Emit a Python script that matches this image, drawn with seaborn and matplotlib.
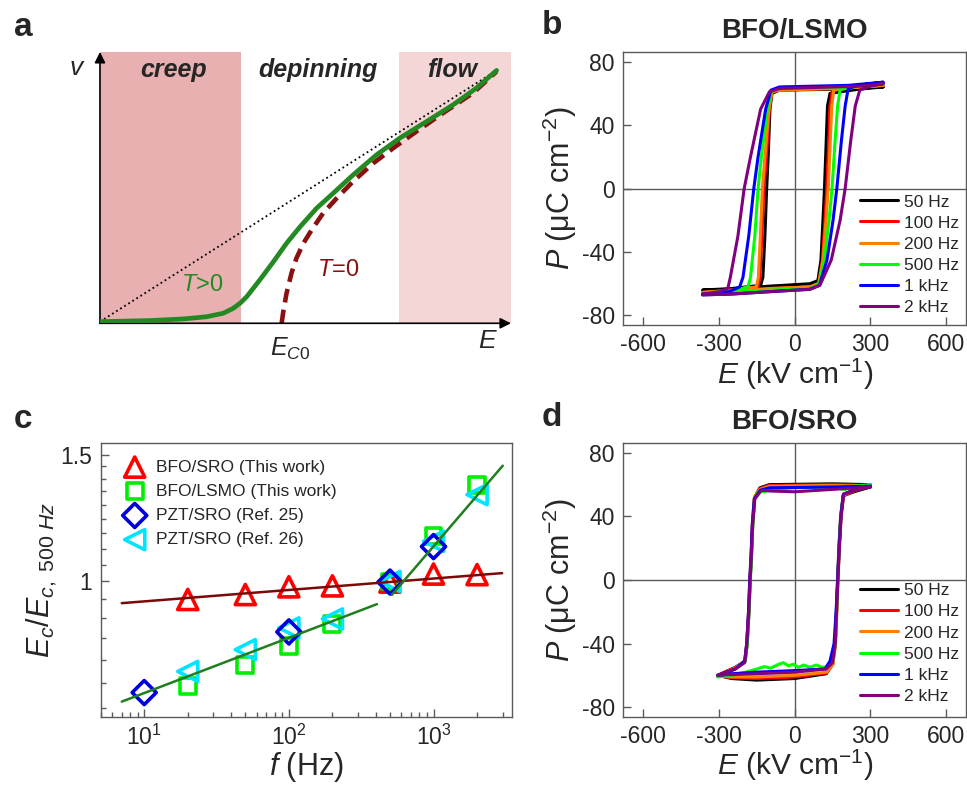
import numpy as np
import pandas as pd
import seaborn as sns
import matplotlib
matplotlib.use("Agg")
import matplotlib.pyplot as plt
from matplotlib.ticker import FixedLocator, FixedFormatter, NullFormatter, LogLocator

# ---------------- panel a: schematic v(E) ----------------
creep_span = [0.0, 3.43]
flow_span = [7.27, 10.0]
tpos_E = [0.0, 1.22, 2.03, 2.59, 3.00, 3.24, 3.41, 3.57, 3.89, 4.22, 4.54, 4.87, 5.27, 5.68,
          6.16, 6.73, 7.30, 7.95, 8.60, 9.16, 9.65]
tpos_v = [0.06, 0.10, 0.16, 0.24, 0.37, 0.55, 0.74, 0.98, 1.60, 2.27, 2.95, 3.56, 4.24, 4.80,
          5.47, 6.21, 6.83, 7.44, 8.06, 8.67, 9.32]
tzero_E = [4.42, 4.46, 4.54, 4.66, 4.78, 4.95, 5.15, 5.43, 5.76, 6.16, 6.65, 7.14, 7.70, 8.35,
           9.08, 9.65]
tzero_v = [0.0, 0.43, 1.11, 1.85, 2.40, 2.95, 3.44, 4.06, 4.61, 5.23, 5.90, 6.46, 7.07, 7.75,
           8.49, 9.28]
linear_E = [0.0, 9.65]
linear_v = [0.06, 9.32]

# ---------------- panels b, d: P-E loops ----------------
freq_labels = ['50 Hz', '100 Hz', '200 Hz', '500 Hz', '1 kHz', '2 kHz']
loop_colors = ['#000000', '#ff0000', '#ff8000', '#00ff00', '#0000ff', '#800080']

# BFO/LSMO, one closed loop per frequency (descending then ascending branch)
lsmo_E = [
    [350, 130, -60, -90, -98, -105, -111, -118, -126, -135, -250, -365,
     -365, -250, -100, 60, 92, 104, 112, 118, 125, 130, 140, 250, 350],
    [350, 145, -60, -90, -100, -112, -122, -130, -138, -145, -250, -365,
     -365, -250, -100, 60, 95, 110, 120, 127, 135, 140, 150, 250, 350],
    [350, 150, -60, -90, -102, -118, -128, -136, -144, -152, -250, -365,
     -365, -250, -100, 60, 95, 112, 124, 133, 141, 147, 155, 250, 350],
    [350, 180, -60, -92, -108, -132, -145, -158, -175, -185, -250, -365,
     -365, -250, -100, 60, 96, 118, 136, 148, 160, 170, 180, 250, 350],
    [350, 212, -60, -94, -115, -145, -162, -182, -205, -218, -260, -365,
     -365, -250, -100, 60, 98, 128, 152, 167, 185, 200, 212, 250, 350],
    [350, 258, -60, -100, -135, -175, -200, -225, -255, -265, -300, -365,
     -365, -250, -100, 60, 100, 145, 180, 200, 222, 240, 258, 300, 350],
]
lsmo_P = [
    [64, 62.5, 62, 60, 50, 20, 0, -30, -56, -61, -63, -64,
     -64, -63.5, -61.5, -60, -58, -45, -20, 0, 30, 52, 60, 62.5, 64],
    [65, 63, 62, 61, 50, 20, 0, -30, -56, -62, -64, -65.5,
     -65.5, -65, -63, -62, -60, -45, -20, 0, 30, 52, 62, 64, 65],
    [65, 63, 62, 61, 50, 20, 0, -30, -56, -62, -64, -65.5,
     -65.5, -65, -63, -62, -60, -45, -20, 0, 30, 52, 62, 64, 65],
    [66, 64, 63, 61.5, 50, 20, 0, -30, -56, -62, -64.5, -66,
     -66, -65.5, -64, -63, -60.5, -45, -20, 0, 30, 52, 62.5, 64.5, 66],
    [67, 65, 64, 62, 50, 20, 0, -30, -56, -62, -65, -66.5,
     -67, -66.5, -65, -63.5, -61, -45, -20, 0, 30, 52, 63, 65, 67],
    [66, 64.5, 63, 61, 50, 20, 0, -30, -56, -63, -65, -66.5,
     -67, -66.5, -65, -63.5, -61, -45, -20, 0, 30, 52, 62, 64.5, 66],
]

# BFO/SRO
sro_E = [
    [300, 150, -100, -138, -158, -166, -171, -176, -181, -188, -196, -235, -305,
     -305, -250, -150, 0, 125, 150, 160, 165, 170, 175, 182, 192, 235, 300],
    [300, 150, -100, -138, -159, -167, -172, -177, -182, -189, -197, -235, -305,
     -305, -250, -150, 0, 126, 151, 161, 166, 171, 176, 183, 193, 235, 300],
    [300, 150, -100, -138, -160, -168, -173, -178, -183, -190, -198, -235, -305,
     -305, -250, -150, 0, 127, 152, 162, 167, 172, 177, 184, 194, 235, 300],
    [300, 230, 200, 150, 100, 0, -100, -120, -140, -158, -166, -171, -176, -181, -188, -196,
     -235, -305,
     -305, -250, -195, -150, -120, -95, -70, -45, -25, -5, 15, 35, 60, 85, 110, 135, 152,
     161, 166, 171, 176, 183, 193, 235, 300],
    [300, 150, -100, -136, -160, -168, -173, -178, -183, -190, -198, -235, -305,
     -305, -250, -150, 0, 120, 140, 156, 164, 170, 176, 183, 193, 235, 300],
    [300, 150, 0, -100, -131, -158, -167, -172, -177, -182, -190, -198, -235, -305,
     -305, -250, -150, 0, 125, 150, 161, 166, 171, 177, 184, 194, 235, 300],
]
sro_P = [
    [60, 60.5, 60, 58, 52, 35, 15, 0, -20, -40, -51, -55, -60,
     -60, -62, -63, -62, -59, -53, -40, -20, 0, 20, 40, 53, 55.5, 58.5],
    [59.5, 60, 59.5, 57.5, 52, 35, 15, 0, -20, -40, -51, -55, -60,
     -60, -61.5, -62, -61, -58.5, -53, -40, -20, 0, 20, 40, 53, 56, 59],
    [59, 59.5, 59, 57, 52, 35, 15, 0, -20, -40, -51, -55.5, -60.5,
     -60.5, -61, -61, -60, -58, -53, -40, -20, 0, 20, 40, 53.5, 56.5, 59.5],
    [60, 59, 57, 58, 58.5, 58, 57, 55.5, 56, 52, 35, 15, 0, -20, -40, -51, -56, -61,
     -61, -60, -58, -56, -54.5, -55.5, -53.5, -52, -54, -53, -55, -53.5, -55, -53.5, -55,
     -54.5, -50, -40, -20, 0, 20, 40, 54, 57, 60],
    [59, 58.5, 58, 56.5, 51, 35, 15, 0, -20, -40, -51, -56, -60,
     -60, -59, -58, -57, -56, -51, -40, -20, 0, 20, 40, 54, 56.5, 59],
    [58.5, 57, 55.5, 56, 56.5, 51, 35, 15, 0, -20, -40, -52, -56, -60,
     -60, -59.5, -59, -58, -56, -52, -40, -20, 0, 20, 40, 54, 56.5, 58.5],
]

# ---------------- panel c: Ec(f)/Ec(500 Hz) ----------------
f_bfo_sro = [20, 50, 100, 200, 500, 1000, 2000]
ec_bfo_sro = [0.944, 0.959, 0.983, 0.986, 0.998, 1.024, 1.022]
f_bfo_lsmo = [20, 50, 100, 200, 500, 1000, 2000]
ec_bfo_lsmo = [0.715, 0.766, 0.814, 0.873, 1.0, 1.155, 1.363]
f_pzt25 = [10, 100, 500, 1000]
ec_pzt25 = [0.701, 0.851, 0.998, 1.118]
f_pzt26 = [20, 50, 100, 200, 500, 1000, 2000]
ec_pzt26 = [0.750, 0.804, 0.862, 0.887, 1.0, 1.137, 1.320]
fit_sro_f, fit_sro_ec = [7, 2980], [0.933, 1.027]
fit_low_f, fit_low_ec = [7, 406], [0.681, 0.930]
fit_high_f, fit_high_ec = [515, 3010], [0.958, 1.448]

# ---------------- style ----------------
sns.set_style("ticks")
plt.rcParams['font.family'] = ['Liberation Sans', 'DejaVu Sans']
plt.rcParams['mathtext.fontset'] = 'custom'
plt.rcParams['mathtext.rm'] = 'Liberation Sans'
plt.rcParams['mathtext.it'] = 'Liberation Sans:italic'
plt.rcParams['mathtext.bf'] = 'Liberation Sans:bold'
plt.rcParams['axes.unicode_minus'] = False

SPINE = '#5a5a5a'
TICK_FS = 16.5
LAB_FS = 22

fig = plt.figure(figsize=(9.67, 7.86), dpi=100)
ax_a = fig.add_axes([0.1034, 0.5887, 0.4250, 0.3452])
ax_b = fig.add_axes([0.6443, 0.5865, 0.3550, 0.3473])
ax_c = fig.add_axes([0.1041, 0.0882, 0.4256, 0.3482])
ax_d = fig.add_axes([0.6443, 0.0882, 0.3550, 0.3478])

# ---- a ----
ax = ax_a
ax.set_xlim(0, 10)
ax.set_ylim(0, 10)
ax.axvspan(*creep_span, color='#e8b0b0', lw=0, zorder=0)
ax.axvspan(*flow_span, color='#f5d6d6', lw=0, zorder=0)
sns.lineplot(x=linear_E, y=linear_v, ax=ax, color='k', lw=1.3, linestyle=':', sort=False,
             estimator=None, zorder=2)
sns.lineplot(x=tzero_E, y=tzero_v, ax=ax, color='#8b1010', lw=3.3, sort=False,
             estimator=None, zorder=3)
ax.lines[-1].set_dashes((3.0, 1.6))
sns.lineplot(x=tpos_E, y=tpos_v, ax=ax, color='#238a23', lw=3.4, sort=False,
             estimator=None, zorder=4)
for s in ax.spines.values():
    s.set_visible(False)
ax.set_xticks([])
ax.set_yticks([])
ax.set_xlabel('')
ax.set_ylabel('')
arrow = dict(arrowstyle='-|>', color='k', lw=1.2, mutation_scale=16, shrinkA=0, shrinkB=0)
ax.annotate('', xy=(1.0, 0), xytext=(0, 0), xycoords='axes fraction', arrowprops=arrow,
            annotation_clip=False)
ax.annotate('', xy=(0, 1.0), xytext=(0, 0), xycoords='axes fraction', arrowprops=arrow,
            annotation_clip=False)
ax.text(1.78, 9.35, 'creep', fontsize=18, fontweight='bold', style='italic', ha='center', va='center')
ax.text(5.30, 9.35, 'depinning', fontsize=18, fontweight='bold', style='italic', ha='center', va='center')
ax.text(8.57, 9.35, 'flow', fontsize=18, fontweight='bold', style='italic', ha='center', va='center')
ax.text(2.48, 1.42, '$T$>0', fontsize=17, color='#238a23', ha='center', va='center')
ax.text(5.79, 1.97, '$T$=0', fontsize=17, color='#8b1010', ha='center', va='center')
ax.text(4.62, -0.95, r'$E_{\mathit{C0}}$', fontsize=18, ha='center', va='center', clip_on=False)
ax.text(9.44, -0.65, '$E$', fontsize=19, ha='center', va='center', clip_on=False)
ax.text(-0.56, 9.42, '$v$', fontsize=19, ha='center', va='center', clip_on=False)


# ---- b, d ----
def draw_loops(ax, E_list, P_list, title, leg_y):
    ax.axhline(0, color=SPINE, lw=1.0, zorder=1)
    ax.axvline(0, color=SPINE, lw=1.0, zorder=1)
    for E, P, lab, col in zip(E_list, P_list, freq_labels, loop_colors):
        sns.lineplot(x=E, y=P, ax=ax, sort=False, estimator=None, color=col, lw=2.2,
                     label=lab, zorder=3)
    ax.set_xlim(-680, 680)
    ax.set_ylim(-86, 86)
    ax.set_xticks([-600, -300, 0, 300, 600])
    ax.set_yticks([-80, -40, 0, 40, 80])
    ax.tick_params(direction='in', length=6, width=1, color=SPINE, labelsize=TICK_FS, pad=6,
                   bottom=True, left=True, top=False, right=False)
    for s in ax.spines.values():
        s.set_color(SPINE)
        s.set_linewidth(1.0)
    ax.set_xlabel('$E$ (kV cm$^{-1}$)', fontsize=21.5, labelpad=0)
    ax.set_ylabel('$P$ (μC cm$^{-2}$)', fontsize=LAB_FS, labelpad=2)
    ax.set_title(title, fontsize=20, fontweight='bold', pad=10)
    ax.legend(loc='lower right', bbox_to_anchor=(0.998, leg_y), borderaxespad=0, frameon=False,
              fontsize=12.5, handlelength=2.2, handletextpad=0.3, labelspacing=0.34)


draw_loops(ax_b, lsmo_E, lsmo_P, 'BFO/LSMO', 0.012)
draw_loops(ax_d, sro_E, sro_P, 'BFO/SRO', 0.022)

# ---- c ----
ax = ax_c
ax.set_xscale('log')
ax.set_yscale('log')
h_sro = ax.scatter(f_bfo_sro, ec_bfo_sro, marker='^', s=210, facecolor='none', edgecolor='#ff0000',
                   linewidth=2.6, zorder=3, label='BFO/SRO (This work)')
h_lsmo = ax.scatter(f_bfo_lsmo, ec_bfo_lsmo, marker='s', s=130, facecolor='none', edgecolor='#00ee00',
                    linewidth=2.6, zorder=3, label='BFO/LSMO (This work)')
h_26 = ax.scatter(f_pzt26, ec_pzt26, marker='<', s=210, facecolor='none', edgecolor='#00e5ff',
                  linewidth=2.6, zorder=4, label='PZT/SRO (Ref. 26)')
h_25 = ax.scatter(f_pzt25, ec_pzt25, marker='D', s=150, facecolor='none', edgecolor='#0000dd',
                  linewidth=2.6, zorder=5, label='PZT/SRO (Ref. 25)')
sns.lineplot(x=fit_sro_f, y=fit_sro_ec, ax=ax, color='#7a0a0a', lw=1.8, estimator=None, zorder=6)
sns.lineplot(x=fit_low_f, y=fit_low_ec, ax=ax, color='#1f7f1f', lw=1.8, estimator=None, zorder=6)
sns.lineplot(x=fit_high_f, y=fit_high_ec, ax=ax, color='#1f7f1f', lw=1.8, estimator=None, zorder=6)
ax.set_xlim(5, 3500)
ax.set_ylim(0.649, 1.557)
ax.yaxis.set_major_locator(FixedLocator([1.0, 1.5]))
ax.yaxis.set_major_formatter(FixedFormatter(['1', '1.5']))
ax.yaxis.set_minor_locator(FixedLocator([k / 18 for k in range(12, 27) if k != 18]))
ax.yaxis.set_minor_formatter(NullFormatter())
ax.xaxis.set_major_locator(LogLocator(base=10))
ax.xaxis.set_minor_locator(LogLocator(base=10, subs=np.arange(2, 10)))
ax.xaxis.set_minor_formatter(NullFormatter())
ax.tick_params(which='major', direction='in', length=6, width=1, color=SPINE, labelsize=TICK_FS, pad=6,
               bottom=True, left=True, top=False, right=False)
ax.tick_params(which='minor', direction='in', length=3.5, width=1, color=SPINE,
               bottom=True, left=True, top=False, right=False)
for s in ax.spines.values():
    s.set_color(SPINE)
    s.set_linewidth(1.0)
ax.set_xlabel('$f$ (Hz)', fontsize=LAB_FS, labelpad=0)
ax.set_ylabel(r'$E_c/E_{c,\ \mathit{500\ Hz}}$', fontsize=LAB_FS, labelpad=1)
ax.legend(handles=[h_sro, h_lsmo, h_25, h_26], loc='upper left', bbox_to_anchor=(0.029, 0.965),
          borderaxespad=0, frameon=False, fontsize=12.5, handlelength=1.75, handletextpad=0.35,
          labelspacing=0.52, scatterpoints=1)

# panel letters
for lab, (x, y) in zip('abcd', [(23, 27), (552, 25), (23, 419), (552, 417)]):
    fig.text(x / 967, 1 - y / 786, lab, fontsize=24, fontweight='bold', ha='center', va='center')

fig.savefig('out.png', dpi=100)
